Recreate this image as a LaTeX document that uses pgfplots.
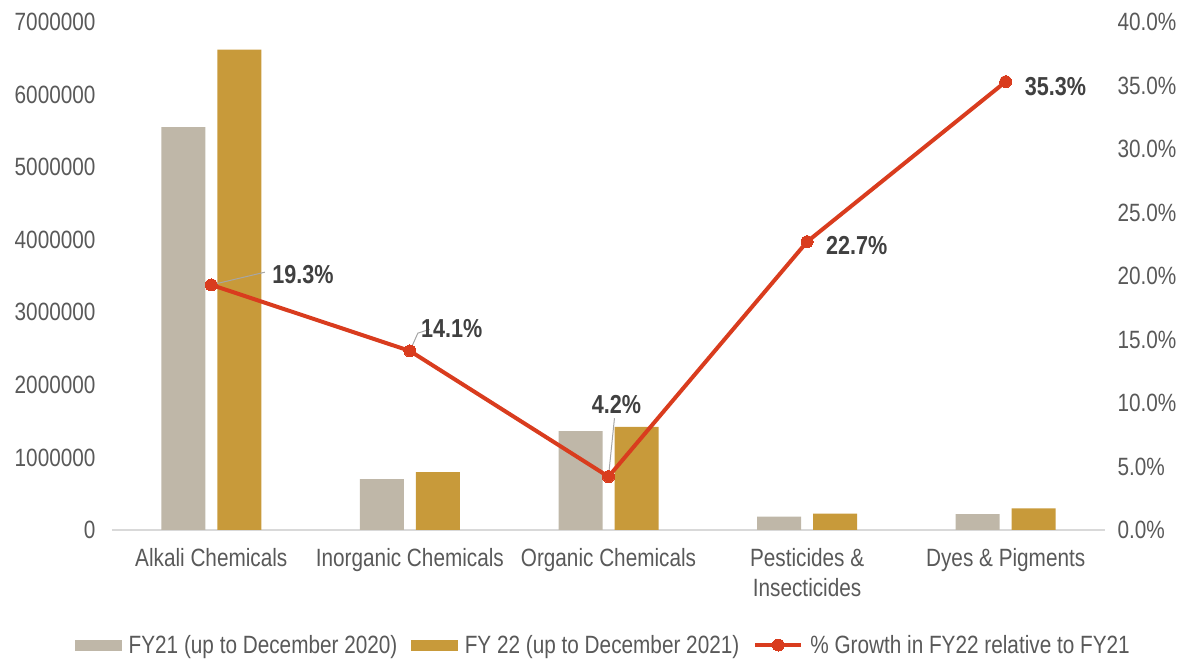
\documentclass[border=0pt]{standalone}
\usepackage{fontspec}
\setmainfont{Liberation Sans}[FakeStretch=0.83]
\usepackage{pgfplots}
\usepackage{pgfplotstable}
\pgfplotsset{compat=1.18}
\definecolor{fyA}{RGB}{191,183,168}
\definecolor{fyB}{RGB}{200,154,58}
\definecolor{gr}{RGB}{217,60,30}
\definecolor{tickgray}{RGB}{89,89,89}
\definecolor{labgray}{RGB}{64,64,64}
\definecolor{axisgray}{RGB}{217,217,217}
\pgfplotstableread{
x fy21 fy22 growth
0 5550000 6620000 19.3
1 700000 799000 14.1
2 1364000 1421000 4.2
3 185000 227000 22.7
4 220000 298000 35.3
}\data
\begin{document}
\begin{tikzpicture}[font=\fontsize{25}{30}\selectfont]
\useasboundingbox (-112pt,-131pt) rectangle (1083pt,530pt);
\begin{axis}[
  at={(0,0)}, anchor=south west,
  scale only axis, width=993pt, height=508pt,
  xmin=-0.5, xmax=4.5, ymin=0, ymax=7000000,
  axis lines*=left,
  x axis line style={draw=axisgray, line width=1.5pt},
  y axis line style={draw=none},
  major tick length=0pt,
  xtick={0,1,2,3,4},
  xticklabels={Alkali Chemicals, Inorganic Chemicals, Organic Chemicals, {Pesticides \&\\Insecticides}, Dyes \& Pigments},
  xticklabel style={align=center, text=tickgray, yshift=-15pt},
  ytick={0,1000000,2000000,3000000,4000000,5000000,6000000,7000000},
  scaled y ticks=false,
  yticklabel={\pgfmathprintnumber[fixed,1000 sep={},assume math mode=true]{\tick}},
  yticklabel style={text=tickgray, xshift=-13pt},
  ybar, bar width=44pt,
]
\addplot[draw=none, fill=fyA, bar shift=-28pt] table[x=x, y=fy21] {\data};
\addplot[draw=none, fill=fyB, bar shift=28pt] table[x=x, y=fy22] {\data};
\end{axis}
\begin{axis}[
  at={(0,0)}, anchor=south west,
  scale only axis, width=993pt, height=508pt,
  xmin=-0.5, xmax=4.5, ymin=0, ymax=40,
  axis x line=none,
  axis y line*=right,
  y axis line style={draw=none},
  major tick length=0pt,
  ytick={0,5,10,15,20,25,30,35,40},
  yticklabel={\pgfmathprintnumber[fixed,fixed zerofill,precision=1,assume math mode=true]{\tick}\%},
  yticklabel style={text=tickgray, xshift=9pt},
  legend columns=3,
  legend style={at={(0.495,-0.2264)}, anchor=center, draw=none, fill=none,
    text=tickgray, font=\fontsize{25}{30}\selectfont,
    /tikz/every even column/.append style={column sep=12pt}},
  legend cell align=left,
  legend image code/.code={\draw[#1, mark repeat=2, mark phase=2] plot coordinates {(0pt,0pt) (23pt,0pt) (46pt,0pt)}; \path (51pt,0pt);},
]
\addlegendimage{legend image code/.code={\fill[fyA] (0pt,-5pt) rectangle (46pt,5pt); \path (51pt,0pt);}}
\addlegendentry{FY21 (up to December 2020)}
\addlegendimage{legend image code/.code={\fill[fyB] (0pt,-5pt) rectangle (46pt,5pt); \path (51pt,0pt);}}
\addlegendentry{FY 22 (up to December 2021)}
\addplot[gr, line width=4pt, mark=*, mark size=6pt, mark options={fill=gr, draw=gr, line width=0pt}]
  table[x=x, y=growth] {\data};
\addlegendentry{\% Growth in FY22 relative to FY21}
\draw[gray!70, line width=1pt] (axis cs:0,19.3) -- (axis cs:0.27,20.3);
\draw[gray!70, line width=1pt] (axis cs:1,14.1) -- (axis cs:1.04,15.5) -- (axis cs:1.1,15.8);
\draw[gray!70, line width=1pt] (axis cs:2,4.2) -- (axis cs:2.03,8.8);
\node[font=\fontsize{26}{31}\selectfont\bfseries, text=labgray] at (axis cs:0.462,20.1) {19.3\%};
\node[font=\fontsize{26}{31}\selectfont\bfseries, text=labgray] at (axis cs:1.21,15.9) {14.1\%};
\node[font=\fontsize{26}{31}\selectfont\bfseries, text=labgray] at (axis cs:2.04,9.9) {4.2\%};
\node[font=\fontsize{26}{31}\selectfont\bfseries, text=labgray] at (axis cs:3.25,22.4) {22.7\%};
\node[font=\fontsize{26}{31}\selectfont\bfseries, text=labgray] at (axis cs:4.25,34.9) {35.3\%};
\end{axis}
\end{tikzpicture}
\end{document}
